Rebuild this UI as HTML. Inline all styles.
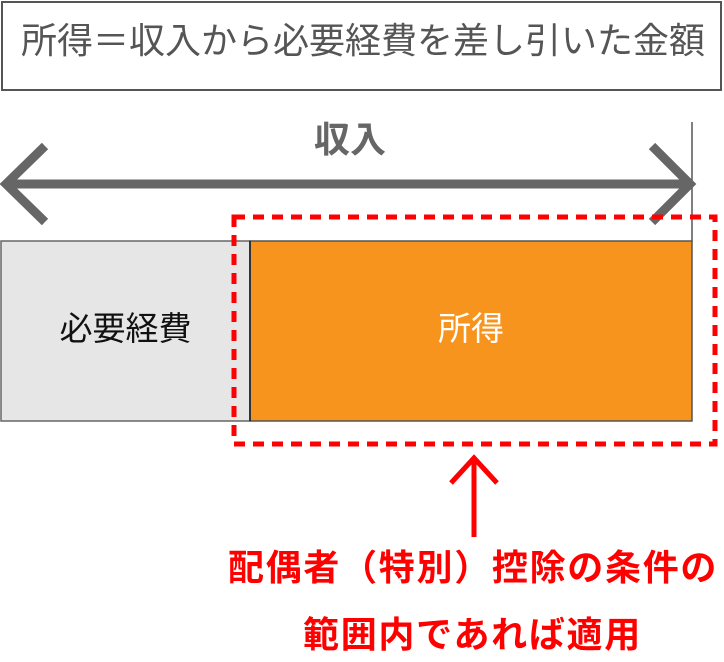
<!DOCTYPE html>
<html><head><meta charset="utf-8"><style>
body{margin:0;width:724px;height:662px;background:#fff;overflow:hidden;position:relative;font-family:"Liberation Sans","Noto Sans CJK JP",sans-serif}
.t{position:absolute;white-space:nowrap}
</style></head><body>
<div style="position:absolute;left:1px;top:1px;width:721px;height:90px;border:2px solid #555;box-sizing:border-box"></div>
<div class="t" style="left:21px;top:21px;font-size:36px;color:#555;line-height:40px;letter-spacing:0">所得＝収入から必要経費を差し引いた金額</div>
<svg width="724" height="662" style="position:absolute;left:0;top:0">
<rect x="1" y="241" width="249" height="180" fill="#e6e6e6" stroke="#666" stroke-width="1.5"/>
<rect x="250" y="241" width="442" height="180" fill="#f7941d" stroke="#555" stroke-width="1.5"/>
<line x1="250" y1="241" x2="250" y2="421" stroke="#333" stroke-width="2"/>
<line x1="692" y1="122" x2="692" y2="241" stroke="#555" stroke-width="1.5"/>
<line x1="8" y1="184" x2="688" y2="184" stroke="#666" stroke-width="9"/>
<polyline points="45,146 6,184 45,222" fill="none" stroke="#666" stroke-width="9"/>
<polyline points="652,146 690,184 652,222" fill="none" stroke="#666" stroke-width="9"/>
<rect x="234" y="217" width="481" height="227" fill="none" stroke="#f00" stroke-width="5" stroke-dasharray="11,8"/>
<line x1="474" y1="460" x2="474" y2="537" stroke="#f00" stroke-width="5"/>
<polyline points="451,483 474,458 497,483" fill="none" stroke="#f00" stroke-width="5"/>
</svg>
<div class="t" style="left:250px;width:200px;top:120px;text-align:center;font-size:36px;font-weight:bold;color:#666;line-height:40px">収入</div>
<div class="t" style="left:1px;width:249px;top:309px;text-align:center;font-size:33px;color:#111;line-height:40px">必要経費</div>
<div class="t" style="left:250px;width:442px;top:309px;text-align:center;font-size:33px;color:#fff;line-height:40px">所得</div>
<div class="t" style="left:228px;top:548px;font-size:36px;font-weight:bold;color:#f00;line-height:40px;letter-spacing:1.7px">配偶者（特別）控除の条件の</div>
<div class="t" style="left:303px;top:615px;font-size:36px;font-weight:bold;color:#f00;line-height:40px;letter-spacing:1.7px">範囲内であれば適用</div>
</body></html>
